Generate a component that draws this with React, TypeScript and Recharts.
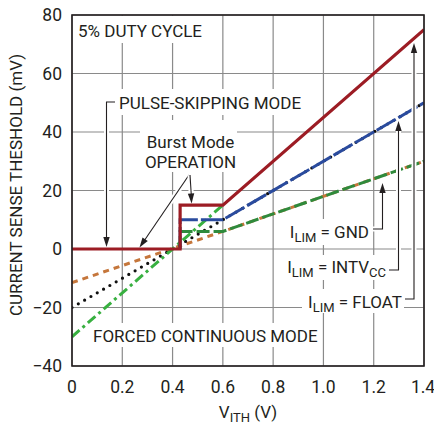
import React from "react";
import { LineChart, Line, XAxis, YAxis, CartesianGrid } from "recharts";

const W = 434;
const H = 425;
// plot area in page pixels (matches margins below)
const PLOT = { left: 72, top: 15, right: 424, bottom: 366 };

const FONT = "Roboto, 'Liberation Sans', sans-serif";
const INK = "#231f20";

const xTicks = [0, 0.2, 0.4, 0.6, 0.8, 1.0, 1.2, 1.4];
const yTicks = [-40, -20, 0, 20, 40, 60, 80];

// forced continuous mode (extends below zero)
const forcedGnd = [
  { x: 0, y: -11.5 },
  { x: 0.6, y: 6 },
  { x: 1.4, y: 30 },
];
const forcedIntvcc = [
  { x: 0, y: -20 },
  { x: 0.6, y: 10 },
  { x: 1.4, y: 50 },
];
const forcedFloat = [
  { x: 0, y: -30 },
  { x: 0.6, y: 15 },
];

// Burst Mode / pulse-skipping (clamped at zero below ~0.43V)
const burstGnd = [
  { x: 0.43, y: 0 },
  { x: 0.43, y: 6 },
  { x: 0.6, y: 6 },
  { x: 1.4, y: 30 },
];
const burstIntvcc = [
  { x: 0.43, y: 0 },
  { x: 0.43, y: 10 },
  { x: 0.6, y: 10 },
  { x: 1.4, y: 50 },
];
const burstFloat = [
  { x: 0, y: 0 },
  { x: 0.43, y: 0 },
  { x: 0.43, y: 15 },
  { x: 0.6, y: 15 },
  { x: 1.4, y: 75 },
];

const fmtX = (v: number) => (v === 0 ? "0" : v.toFixed(1));
const fmtY = (v: number) => (v < 0 ? `\u2212${-v}` : `${v}`);

// small arrowhead: tip at (x, y), pointing along (dx, dy)
const arrow = (x: number, y: number, dx: number, dy: number) => {
  const len = Math.hypot(dx, dy);
  const ux = dx / len;
  const uy = dy / len;
  const L = 10;
  const hw = 3.2;
  const bx = x - ux * L;
  const by = y - uy * L;
  return `${x},${y} ${bx - uy * hw},${by + ux * hw} ${bx + uy * hw},${by - ux * hw}`;
};

const Leader = ({ d }: { d: string }) => (
  <>
    <path d={d} fill="none" stroke="#fff" strokeWidth={5} />
    <path d={d} fill="none" stroke={INK} strokeWidth={1.1} />
  </>
);

const Overlay = () => (
  <svg
    width={W}
    height={H}
    style={{ position: "absolute", left: 0, top: 0, pointerEvents: "none" }}
    fontFamily={FONT}
    fill={INK}
  >
    {/* white boxes behind the labels (they break the grid) */}
    <g fill="#fff">
      <rect x={73} y={16} width={136} height={27} />
      <rect x={112} y={89} width={194} height={26} />
      <rect x={140} y={120} width={97} height={52} />
      <rect x={90} y={323} width={228} height={24} />
      <rect x={283} y={219} width={89} height={26} />
      <rect x={281} y={255} width={107} height={25} />
      <rect x={302} y={289} width={102} height={24} />
    </g>

    <Leader d="M115,102 H106.5 V240" />
    <polygon points={arrow(106.5, 247, 0, 1)} />

    <Leader d="M189,175 L144,241" />
    <polygon points={arrow(139.5, 247.5, -49.5, 72.5)} />
    <Leader d="M190,175 L191.3,195" />
    <polygon points={arrow(191.6, 203.5, 1.6, 28.5)} />

    <Leader d="M373,229 H382.5 V190" />
    <polygon points={arrow(382.5, 183, 0, -1)} />
    <Leader d="M389,270 H398.5 V128" />
    <polygon points={arrow(398.5, 121, 0, -1)} />
    <Leader d="M405,299 H414 V50" />
    <polygon points={arrow(414, 43, 0, -1)} />

    <g fontSize={17}>
      <text x={78} y={36.5}>5% DUTY CYCLE</text>
      <text x={119} y={108.5}>PULSE-SKIPPING MODE</text>
      <text x={190.5} y={147.7} textAnchor="middle">
        Burst Mode
      </text>
      <text x={190.5} y={168.3} textAnchor="middle">
        OPERATION
      </text>
      <text x={93} y={342}>FORCED CONTINUOUS MODE</text>

      <text x={369} y={237.7} textAnchor="end">
        I
        <tspan fontSize={13} dy={4}>
          LIM
        </tspan>
        <tspan dy={-4}> = GND</tspan>
      </text>
      <text x={386} y={273.3} textAnchor="end">
        I
        <tspan fontSize={13} dy={4}>
          LIM
        </tspan>
        <tspan dy={-4}> = INTV</tspan>
        <tspan fontSize={13} dy={4}>
          CC
        </tspan>
      </text>
      <text x={402} y={307.7} textAnchor="end">
        I
        <tspan fontSize={13} dy={4}>
          LIM
        </tspan>
        <tspan dy={-4}> = FLOAT</tspan>
      </text>

      <text x={248} y={418} textAnchor="middle">
        V
        <tspan fontSize={13} dy={3.5}>
          ITH
        </tspan>
        <tspan dy={-3.5}> (V)</tspan>
      </text>
      <text
        x={22}
        y={185}
        textAnchor="middle"
        transform="rotate(-90 22 185)"
      >
        CURRENT SENSE THESHOLD (mV)
      </text>
    </g>

    <rect
      x={PLOT.left}
      y={PLOT.top}
      width={PLOT.right - PLOT.left}
      height={PLOT.bottom - PLOT.top}
      fill="none"
      stroke={INK}
      strokeWidth={1.6}
    />
  </svg>
);

export default function App() {
  const tickStyle = { fontFamily: FONT, fontSize: 17.5, fill: INK };
  return (
    <div
      style={{
        position: "absolute",
        left: 0,
        top: 0,
        width: W,
        height: H,
        background: "#fff",
      }}
    >
      <LineChart
        width={W}
        height={H}
        margin={{ top: PLOT.top, right: W - PLOT.right, bottom: 0, left: 0 }}
      >
        <CartesianGrid stroke="#8a8a8a" strokeWidth={1.2} />
        <XAxis
          type="number"
          dataKey="x"
          domain={[0, 1.4]}
          ticks={xTicks}
          tickFormatter={fmtX}
          height={H - PLOT.bottom}
          axisLine={false}
          tickLine={false}
          tickMargin={8.5}
          tick={tickStyle}
          allowDataOverflow
        />
        <YAxis
          type="number"
          dataKey="y"
          domain={[-40, 80]}
          ticks={yTicks}
          tickFormatter={fmtY}
          width={PLOT.left}
          axisLine={false}
          tickLine={false}
          tickMargin={4}
          tick={tickStyle}
          allowDataOverflow
        />

        <Line
          data={forcedGnd}
          dataKey="y"
          stroke="#c5763b"
          strokeWidth={3}
          strokeDasharray="6 5"
          dot={false}
          activeDot={false}
          isAnimationActive={false}
        />
        <Line
          data={forcedIntvcc}
          dataKey="y"
          stroke="#111"
          strokeWidth={3.2}
          strokeDasharray="0 7.3"
          strokeLinecap="round"
          dot={false}
          activeDot={false}
          isAnimationActive={false}
        />
        <Line
          data={forcedFloat}
          dataKey="y"
          stroke="#38b040"
          strokeWidth={3}
          strokeDasharray="10 4 3 4"
          dot={false}
          activeDot={false}
          isAnimationActive={false}
        />
        <Line
          data={burstGnd}
          dataKey="y"
          stroke="#2f8a3c"
          strokeWidth={3}
          strokeDasharray="13 4"
          dot={false}
          activeDot={false}
          isAnimationActive={false}
        />
        <Line
          data={burstIntvcc}
          dataKey="y"
          stroke="#2a4b9e"
          strokeWidth={3}
          strokeDasharray="22 3"
          dot={false}
          activeDot={false}
          isAnimationActive={false}
        />
        <Line
          data={burstFloat}
          dataKey="y"
          stroke="#9c1c24"
          strokeWidth={3.2}
          strokeLinejoin="miter"
          dot={false}
          activeDot={false}
          isAnimationActive={false}
        />
      </LineChart>
      <Overlay />
    </div>
  );
}
